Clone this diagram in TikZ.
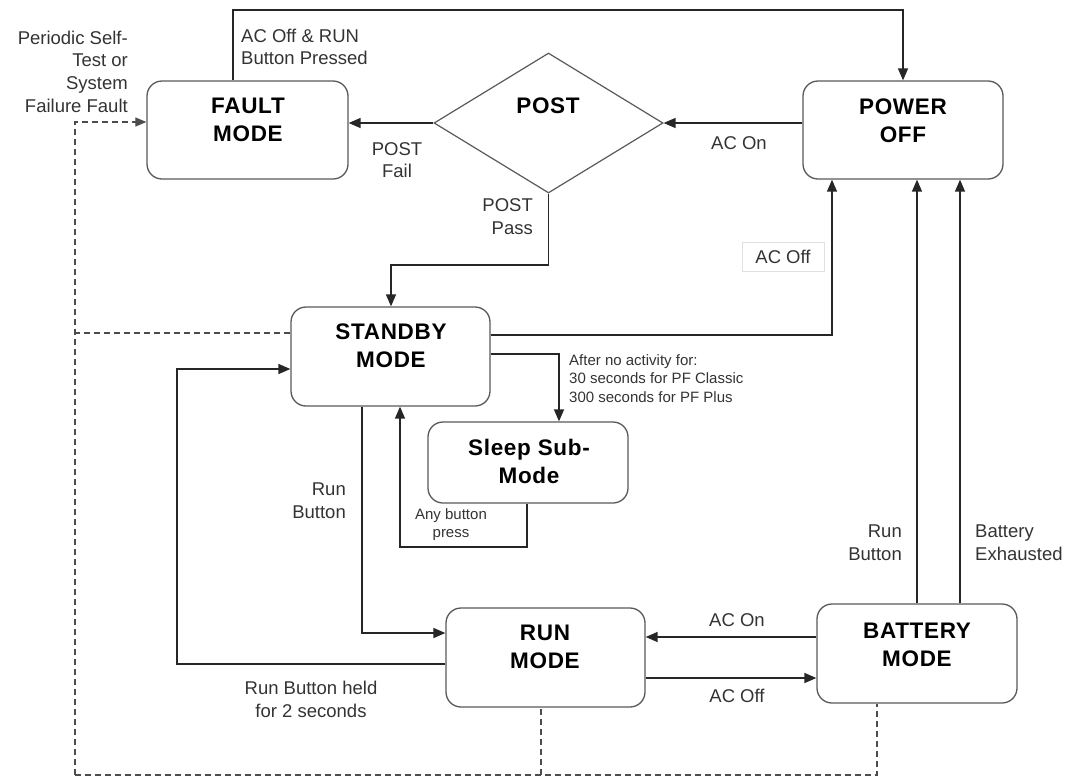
\documentclass[tikz,border=0pt]{standalone}
\usepackage{fontspec}
\setmainfont{Liberation Sans}
\usetikzlibrary{arrows.meta,shapes.geometric}
\begin{document}
\begin{tikzpicture}[x=1pt,y=-1pt,
  box/.style={draw=black!65, line width=1.3pt, rounded corners=15pt, inner sep=0pt},
  boxtxt/.style={align=center, inner sep=0pt, font=\fontsize{22.5}{28}\selectfont\bfseries\addfontfeature{LetterSpace=3}},
  conn/.style={draw=black!85, line width=1.5pt},
  arr/.style={conn, -{Triangle[length=12pt,width=10pt]}},
  dashline/.style={draw=black!70, line width=1.1pt, dash pattern=on 6pt off 4pt},
  lbl/.style={inner sep=0pt, text=black!80, font=\fontsize{18.5}{22.7}\selectfont},
  sml/.style={inner sep=0pt, text=black!80, font=\fontsize{15}{18.5}\selectfont}
]
\useasboundingbox (0,0) rectangle (1071,777);

% boxes
\node[box, minimum width=201pt, minimum height=98pt] (fault) at (247.5,130) {};
\node[boxtxt] (faultT) at (248,120) {FAULT\\MODE};
\node[box, minimum width=200pt, minimum height=98pt] (power) at (903,130) {};
\node[boxtxt] (powerT) at (903,120.5) {POWER\\OFF};
\node[box, minimum width=199pt, minimum height=99pt] (standby) at (390.5,356.5) {};
\node[boxtxt] (standbyT) at (391,346) {STANDBY\\MODE};
\node[box, minimum width=200pt, minimum height=81pt] (sleep) at (528,462.5) {};
\node[boxtxt] (sleepT) at (529,461.5) {Sleep Sub-\\Mode};
\node[box, minimum width=199pt, minimum height=99pt] (run) at (545.5,657.5) {};
\node[boxtxt] (runT) at (545,647) {RUN\\MODE};
\node[box, minimum width=200pt, minimum height=99pt] (battery) at (917,653.5) {};
\node[boxtxt] (batteryT) at (917,644.5) {BATTERY\\MODE};

% diamond
\node[draw=black!65, line width=1.2pt, diamond, inner sep=0pt, minimum width=229pt, minimum height=140pt] (post) at (548.5,123) {};
\node[boxtxt] (postT) at (548,106) {POST};

% coordinates
\coordinate (c1) at (233,10);
\coordinate (c2) at (903,10);
\coordinate (c3) at (548.5,265);
\coordinate (c4) at (391,265);
\coordinate (c5) at (832,335);
\coordinate (c6) at (559,354);
\coordinate (c7) at (527,547);
\coordinate (c8) at (400,547);
\coordinate (c9) at (362,633);
\coordinate (c10) at (177,664);
\coordinate (c11) at (177,369);
\coordinate (d1) at (75,333);
\coordinate (d2) at (75,122);
\coordinate (d3) at (75,775);
\coordinate (d4) at (877,775);
\coordinate (d5) at (541,775);

% connectors
\draw[arr] (fault.north -| c1) -- (c1) -- (c2) -- (power.north -| c2);
\draw[arr] (power.west |- post.east) -- (post.east);
\draw[arr] (post.west) -- (fault.east |- post.west);
\draw[arr] (post.south) -- (c3) -- (c4) -- (standby.north -| c4);
\draw[arr] (standby.east |- c5) -- (c5) -- (power.south -| c5);
\draw[arr] (standby.east |- c6) -- (c6) -- (sleep.north -| c6);
\draw[arr] (sleep.south -| c7) -- (c7) -- (c8) -- (standby.south -| c8);
\draw[arr] (standby.south -| c9) -- (c9) -- (run.west |- c9);
\draw[arr] (run.west |- c10) -- (c10) -- (c11) -- (standby.west |- c11);
\draw[arr] (battery.west |- 0,637) -- (run.east |- 0,637);
\draw[arr] (run.east |- 0,678) -- (battery.west |- 0,678);
\draw[arr] (battery.north -| 917,0) -- (power.south -| 917,0);
\draw[arr] (battery.north -| 960,0) -- (power.south -| 960,0);

% dashed
\draw[dashline] (standby.west |- d1) -- (d1);
\draw[dashline, -{Triangle[length=11pt,width=9pt]}] (d3) -- (d2) -- (fault.west |- d2);
\draw[dashline] (d3) -- (d4) -- (battery.south -| d4);
\draw[dashline] (d5) -- (run.south -| d5);

% labels
\node[lbl, align=left, anchor=west] (l1) at (241,47) {AC Off \& RUN\\Button Pressed};
\node[lbl, align=right, anchor=east] (l2) at (128,71.5) {Periodic Self-\\Test or\\System\\Failure Fault};
\node[lbl, align=center] (l3) at (397,160) {POST\\Fail};
\node[lbl] (l4) at (739,143) {AC On};
\node[lbl, align=right, anchor=east] (l5) at (533,216.5) {POST\\Pass};
\node[lbl, draw=black!12, line width=0.8pt, minimum width=82pt, minimum height=29pt] (l6) at (783,256.5) {AC Off};
\node[sml, align=left, anchor=west] (l7) at (569,378.5) {After no activity for:\\30 seconds for PF Classic\\300 seconds for PF Plus};
\node[sml, align=center] (l8) at (451,524.5) {Any button\\press};
\node[lbl, align=right, anchor=east] (l9) at (346,500.5) {Run\\Button};
\node[lbl, align=right, anchor=east] (l10) at (902,542.5) {Run\\Button};
\node[lbl, align=left, anchor=west] (l11) at (975,542.5) {Battery\\Exhausted};
\node[lbl] (l12) at (737,620) {AC On};
\node[lbl] (l13) at (737,696) {AC Off};
\node[lbl, align=center] (l14) at (311,699.5) {Run Button held\\for 2 seconds};
\end{tikzpicture}
\end{document}
